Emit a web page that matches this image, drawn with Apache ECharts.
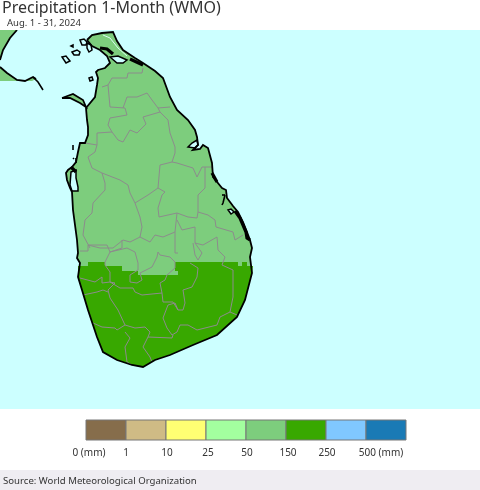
<!DOCTYPE html>
<html lang="en">
<head>
<meta charset="UTF-8">
<title>Precipitation 1-Month (WMO)</title>
<style>body{margin:0;background:#fff}</style>
</head>
<body>
<div id="main" style="width:480px;height:490px;"></div>
<script src="https://cdn.jsdelivr.net/npm/echarts@6/dist/echarts.min.js"></script>
<script>
// outlines, in map units
var coast = [[87,40],[92,35],[102,33],[113,32],[117,41],[123,50],[135,58],[143,63],[155,71],[163,78],[170,97],[177,110],[188,120],[195,130],[197,137],[198,145],[195,148],[193,150],[200,149],[203,145],[208,148],[212,163],[213,177],[222,188],[226,190],[227,198],[233,206],[238,212],[243,222],[247,232],[250,240],[252,248],[250,257],[252,273],[245,300],[237,317],[217,335],[193,345],[170,355],[155,360],[143,367],[132,365],[117,360],[103,352],[97,337],[93,325],[88,310],[82,290],[78,277],[80,263],[77,258],[78,253],[77,240],[75,225],[73,210],[72,192],[70,188],[67,180],[66,173],[68,170],[72,167],[76,162],[78,152],[80,143],[85,143],[88,135],[88,127],[87,120],[86,108],[95,97],[97,85],[98,78],[96,72],[98,70],[105,68],[110,63],[107,56],[100,50],[92,46]];
var wetBand = [[78,266],[88,266],[88,262],[105,262],[105,266],[122,266],[122,271],[138,271],[138,275],[178,275],[178,271],[175,271],[175,262],[238,262],[238,266],[242,266],[242,262],[247,262],[247,266],[253,266],[252,273],[245,300],[237,317],[217,335],[193,345],[170,355],[155,360],[143,367],[132,365],[117,360],[103,352],[97,337],[93,325],[88,310],[82,290],[78,277]];
var india = [[0,30],[17,30],[10,38],[3,50],[0,60]];
var indiaSouth = [[0,67],[7,73],[17,80],[25,81],[33,77],[36,79],[32,81],[0,81]];
var mannar = [[62,98],[73,94],[83,100],[86,107],[80,103],[70,98]];
var lagoons = [
    [[71,172],[76,170],[76,178],[78,187],[78,191],[72,191],[70,185]],
    [[188,147],[192,143],[197,140],[198,145],[195,148]],
    [[110,57],[117,63],[123,63],[127,60],[118,56]],
    [[80,40],[84,39],[87,42],[86,45],[82,45]],
    [[228,210],[231,209],[234,212],[231,214]]
];
var islets = [[[62,57],[66,56],[70,61],[66,63]],[[72,52],[77,50],[80,52],[79,55],[74,55]],[[87,43],[91,45],[92,50],[89,52],[87,48]],[[89,78],[92,77],[93,80],[90,81]],[[71,46],[73,45],[73,47]]];
var thinBlack = [[[33,77],[38,82],[43,90]],[[222,195],[225,195]],[[225,195],[223,203],[222,205]],[[73,145],[73,150]],[[73,158],[74,159]],[[76,158],[76,163]]];
var thickBlack = [[[100,48],[107,49],[113,54]],[[130,59],[143,65]],[[212,173],[217,182]],[[235,211],[240,218],[243,225],[246,232],[247,238],[250,240]],[[71,167],[76,172]]];
var paleStripe = [[103,35],[110,38],[118,48],[127,56]];
var districts = [
    [[85,143],[97,145],[95,152],[88,157],[92,168],[102,173],[120,180],[128,185],[130,193],[135,203],[148,195],[158,188],[165,192],[162,195],[158,208],[159,217],[177,213],[188,217],[197,218],[198,212],[208,215],[215,220],[216,227],[233,232],[235,240],[243,235]],
    [[97,145],[97,133],[112,132],[118,140],[123,142],[130,130],[137,133],[146,124],[143,117],[160,112],[158,108],[152,100],[147,93],[137,97],[127,97],[123,108]],
    [[102,87],[108,85],[112,78],[127,78],[128,73],[142,73],[143,68]],
    [[108,85],[110,107],[125,108],[127,115],[110,118],[108,125],[112,132]],
    [[158,108],[170,107]],
    [[160,112],[168,120],[170,133],[175,147],[175,153],[172,162],[160,165],[158,188]],
    [[172,162],[177,163],[193,168],[197,177],[202,167],[212,167]],
    [[205,167],[205,188],[198,195],[198,212]],
    [[102,173],[105,183],[105,190],[93,203],[92,213],[85,220],[83,235],[90,248]],
    [[135,203],[140,217],[142,227],[140,237],[130,242],[123,240],[113,248],[100,248],[88,245]],
    [[140,237],[150,242],[155,235],[163,237],[175,232],[175,253],[178,253]],
    [[177,213],[175,232]],
    [[177,220],[182,230],[195,227],[195,243],[203,245],[217,237],[218,250],[225,257],[222,265],[233,270],[233,297],[230,312]],
    [[80,251],[88,251],[88,245],[107,245],[110,252],[105,262],[105,265],[110,272],[110,282]],
    [[110,252],[122,248],[122,240]],
    [[110,252],[127,248],[135,252],[138,263],[138,270],[130,275],[130,282],[137,283],[142,280],[140,273],[152,267],[157,257],[158,252],[160,255],[170,257],[175,262],[175,268],[167,275],[165,280],[160,283],[162,293],[142,295],[135,292],[133,288],[120,288],[110,282],[102,283],[102,277],[95,282],[80,278]],
    [[110,282],[115,283],[108,290],[110,298],[118,310],[125,325],[117,330],[115,328],[102,327],[93,323]],
    [[83,295],[97,292],[103,290],[108,292]],
    [[162,293],[163,302],[173,302],[178,310],[183,310],[185,303],[183,290],[192,287],[197,277],[198,268],[190,263]],
    [[178,310],[175,303],[168,305],[163,318],[167,328],[172,335],[177,332],[180,325],[188,325],[197,330],[217,325],[220,317],[230,312],[237,315]],
    [[195,243],[202,253],[198,260],[195,255],[193,243]],
    [[125,325],[135,328],[145,327],[150,332],[148,337],[143,347],[150,357],[152,362]],
    [[148,337],[172,338],[173,335]],
    [[125,332],[130,338],[125,347],[127,362],[132,365]]
];

var binColors = ['#866d4b', '#cfbb85', '#ffff73', '#a3ff9f', '#7dcd7d', '#38a800', '#80c8ff', '#1a7ab5'];
var tickLabels = ['0 (mm)', '1', '10', '25', '50', '150', '250', '500 (mm)'];
var tickShift = [3, 0, 1, 2, 1, 2, 1, 15];

var LIGHT = binColors[4], WET = binColors[5], SEA = '#ccffff';

function shapes(list, style, closed) {
    return {
        type: 'custom',
        coordinateSystem: 'cartesian2d',
        xAxisIndex: 0,
        yAxisIndex: 0,
        silent: true,
        clip: true,
        data: list.map(function (d, i) { return [i]; }),
        renderItem: function (params, api) {
            var pts = list[params.dataIndex].map(function (p) { return api.coord(p); });
            return {
                type: closed ? 'polygon' : 'polyline',
                shape: { points: pts },
                style: style
            };
        }
    };
}

var chart = echarts.init(document.getElementById('main'));
chart.setOption({
    animation: false,
    backgroundColor: '#fff',
    textStyle: { fontFamily: 'Noto Sans' },
    title: [
        { text: 'Precipitation 1-Month (WMO)', left: 2, top: 0, padding: 0, textStyle: { fontSize: 16, fontWeight: 'normal', color: '#333' } },
        { text: 'Aug. 1 - 31, 2024', left: 7, top: 18, padding: 0, textStyle: { fontSize: 9.5, fontWeight: 'normal', color: '#333' } },
        { text: 'Source: World Meteorological Organization', left: 3, top: 476, padding: 0, z: 10, textStyle: { fontSize: 9.6, fontWeight: 'normal', color: '#333' } }
    ],
    graphic: [{ type: 'rect', shape: { x: 0, y: 470, width: 480, height: 20 }, style: { fill: '#efedf2' }, z: -1 }],
    grid: [
        { left: 0, top: 30, width: 480, height: 379, show: true, backgroundColor: SEA, borderWidth: 0 },
        { left: 86, top: 420, width: 320, height: 20 }
    ],
    xAxis: [
        { type: 'value', gridIndex: 0, min: 0, max: 480, show: false },
        { type: 'value', gridIndex: 1, min: 0, max: 8, show: false }
    ],
    yAxis: [
        { type: 'value', gridIndex: 0, min: 30, max: 409, inverse: true, show: false },
        { type: 'value', gridIndex: 1, min: 0, max: 1, show: false }
    ],
    series: [
        shapes([india, indiaSouth, mannar, coast], { fill: LIGHT, stroke: 'none' }, true),
        shapes([wetBand], { fill: WET, stroke: 'none' }, true),
        shapes(districts, { fill: 'none', stroke: '#8c8c8c', lineWidth: 1 }, false),
        shapes([paleStripe], { fill: 'none', stroke: '#d8fff0', lineWidth: 1 }, false),
        shapes(lagoons, { fill: SEA, stroke: '#000', lineWidth: 1.5 }, true),
        shapes(islets, { fill: SEA, stroke: '#000', lineWidth: 1.5 }, true),
        shapes([coast.concat([coast[0]]), mannar.concat([mannar[0]]), india.slice(1), indiaSouth.slice(0, 6)], { fill: 'none', stroke: '#000', lineWidth: 1.8 }, false),
        shapes(thinBlack, { fill: 'none', stroke: '#000', lineWidth: 1.6 }, false),
        shapes(thickBlack, { fill: 'none', stroke: '#000', lineWidth: 3.2 }, false),
        {
            type: 'custom',
            coordinateSystem: 'cartesian2d',
            xAxisIndex: 1,
            yAxisIndex: 1,
            silent: true,
            clip: false,
            data: binColors.map(function (c, i) { return [i]; }),
            renderItem: function (params, api) {
                var i = params.dataIndex;
                var a = api.coord([i, 1]), b = api.coord([i + 1, 0]);
                return {
                    type: 'group',
                    children: [{
                        type: 'rect',
                        shape: { x: a[0], y: a[1], width: b[0] - a[0], height: b[1] - a[1] },
                        style: { fill: binColors[i], stroke: '#777', lineWidth: 1 }
                    }, {
                        type: 'text',
                        style: {
                            text: tickLabels[i],
                            x: a[0] + tickShift[i],
                            y: b[1] + 13,
                            align: 'center',
                            verticalAlign: 'middle',
                            fontFamily: 'Noto Sans',
                            fontSize: 10,
                            fill: '#333'
                        }
                    }]
                };
            }
        }
    ]
});
</script>
</body>
</html>
